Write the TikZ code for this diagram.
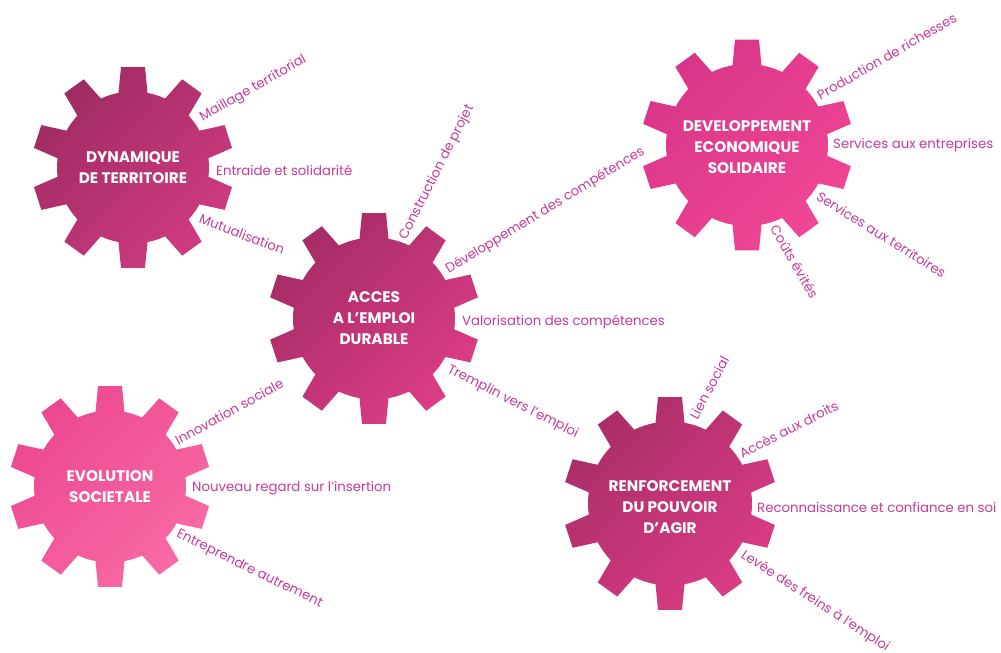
\documentclass[tikz,border=0pt]{standalone}
\usepackage{fontspec}
\newfontfamily\labfont{Poppins}
\definecolor{labcol}{RGB}{200,58,150}
\definecolor{gAa}{HTML}{A02B63}\definecolor{gAb}{HTML}{CF3B80}
\definecolor{gBa}{HTML}{A52C66}\definecolor{gBb}{HTML}{DD3D86}
\definecolor{gCa}{HTML}{D93689}\definecolor{gCb}{HTML}{F04695}
\definecolor{gDa}{HTML}{EC4890}\definecolor{gDb}{HTML}{F86AA5}
\definecolor{gEa}{HTML}{AA2E68}\definecolor{gEb}{HTML}{DA3C84}
% #1 cx, #2 cy, #3 outer radius, #4 colour A, #5 colour B
\newcommand\mygear[5]{%
  \pgfmathsetmacro\gearin{#3-25}%
  \pgfmathsetmacro\gearhb{asin(14.5/\gearin)}%
  \pgfmathsetmacro\gearht{asin(12/#3)}%
  \begin{scope}[shift={(#1,#2)}]
  \shade[top color=#4, bottom color=#5, shading angle=45]
    (90-\gearhb:\gearin pt)
    \foreach \k in {0,...,9}{
      -- ({90+36*\k-\gearht}:#3 pt) -- ({90+36*\k+\gearht}:#3 pt)
      -- ({90+36*\k+\gearhb}:\gearin pt)
      arc[start angle={90+36*\k+\gearhb}, end angle={126+36*\k-\gearhb}, radius=\gearin pt]
    } -- cycle;
  \end{scope}}
\begin{document}
\begin{tikzpicture}[x=1pt,y=1pt,
  lab/.style={font=\labfont\fontsize{13.3}{15}\selectfont, text=labcol, inner sep=0pt, anchor=west},
  title/.style={font=\labfont\bfseries\fontsize{15.3}{21}\selectfont, text=white, align=center, inner sep=0pt}]
\useasboundingbox (0,0) rectangle (1001,653);
\fill[white] (0,0) rectangle (1001,653);

% gears
\mygear{133}{485.5}{101}{gAa}{gAb}
\mygear{374}{334.5}{106}{gBa}{gBb}
\mygear{747}{508}{106}{gCa}{gCb}
\mygear{110}{166.5}{101}{gDa}{gDb}
\mygear{670}{149.5}{107}{gEa}{gEb}

% titles
\node[title] (dyn) at (133,485.5) {DYNAMIQUE\\DE TERRITOIRE};
\node[title] (acc) at (374,334.5) {ACCES\\A L’EMPLOI\\DURABLE};
\node[title] (dev) at (747,506) {DEVELOPPEMENT\\ECONOMIQUE\\SOLIDAIRE};
\node[title] (evo) at (110,166.5) {EVOLUTION\\SOCIETALE};
\node[title] (ren) at (670,145.5) {RENFORCEMENT\\DU POUVOIR\\D’AGIR};

% labels gear 1
\node[lab, rotate=30] (l11) at (201,534) {Maillage territorial};
\node[lab] (l12) at (216,483) {Entraide et solidarité};
\node[lab, rotate=-21] (l13) at (200,435) {Mutualisation};
% labels gear 2
\node[lab, rotate=63] (l21) at (403,414) {Construction de projet};
\node[lab, rotate=31.5] (l22) at (447,382) {Développement des compétences};
\node[lab] (l23) at (462,331) {Valorisation des compétences};
\node[lab, rotate=-27] (l24) at (448,284) {Tremplin vers l’emploi};
% labels gear 3
\node[lab, rotate=30] (l31) at (818,557) {Production de richesses};
\node[lab] (l32) at (833,508) {Services aux entreprises};
\node[lab, rotate=-32] (l33) at (818,458) {Services aux territoires};
\node[lab, rotate=-60] (l34) at (774,427) {Coûts évités};
% labels gear 4
\node[lab, rotate=29] (l41) at (176,212) {Innovation sociale};
\node[lab] (l42) at (192,165) {Nouveau regard sur l’insertion};
\node[lab, rotate=-26] (l43) at (177,119) {Entreprendre autrement};
% labels gear 5
\node[lab, rotate=62] (l51) at (693,235) {Lien social};
\node[lab, rotate=27] (l52) at (740,199) {Accès aux droits};
\node[lab] (l53) at (757,146) {Reconnaissance et confiance en soi};
\node[lab, rotate=-33] (l54) at (742,99) {Levée des freins à l’emploi};
\end{tikzpicture}
\end{document}
